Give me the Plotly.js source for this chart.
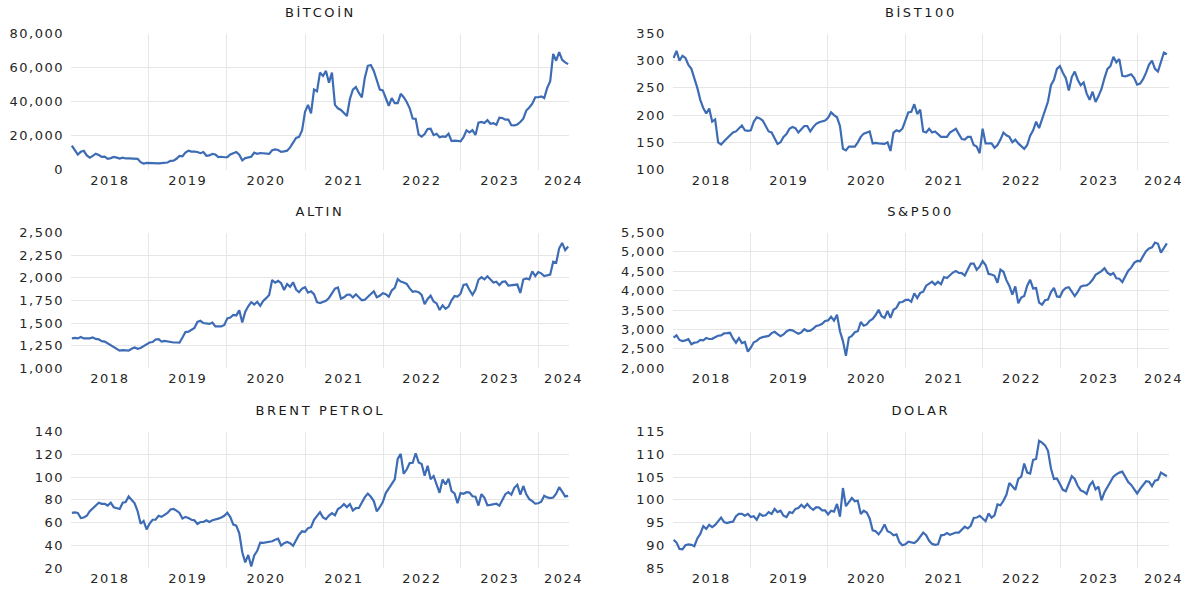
<!DOCTYPE html>
<html><head><meta charset="utf-8">
<script src="https://cdn.plot.ly/plotly-3.0.1.min.js"></script>
<style>
html,body{margin:0;padding:0;background:#fff;}
#chart{width:1190px;height:590px;}
g[class*="tick"] > text { letter-spacing: 1.5px; }
g.annotation text { letter-spacing: 2.6px; }
</style></head><body><div id="chart"></div>
<script>
// Biweekly observations starting 2018-01-05
const startDate = '2018-01-05';
const stepDays = 14;

const bitcoin = [
 14000, 11200, 8800, 10400, 11000, 8300, 7000, 8000, 9300, 8500, 7400, 7600, 6300, 6700, 7400, 7000, 6400, 7000, 6500, 6600, 6400, 6400, 6300, 4300, 3500, 3900,
 3800, 3600, 3450, 3600, 3800, 3900, 4100, 5100, 5200, 6300, 8000, 7800, 10000, 11000, 10500, 10500, 10300, 9600, 10300, 8100, 8300, 9200, 8800, 7300, 7500, 7200,
 7300, 8900, 9400, 10300, 8700, 5400, 6700, 6900, 7500, 9900, 9200, 9700, 9400, 9100, 9200, 11300, 11800, 11500, 10400, 10700, 11100, 13000, 15500, 18600, 19200, 23000,
 34000, 38000, 33000, 47000, 46000, 57000, 55000, 58000, 51000, 57000, 38000, 36000, 35000, 33500, 31500, 41500, 47000, 48500, 45000, 42500, 54000, 61000, 61500, 58000, 53000, 47000,
 46500, 42500, 37500, 42000, 39000, 39000, 44500, 42500, 39700, 36000, 30000, 29800, 20500, 19300, 20800, 23800, 24000, 20200, 21000, 19000, 19500, 19200, 21000, 16700, 17000, 16800,
 16600, 19000, 23000, 21800, 23200, 20300, 27500, 28000, 27300, 29000, 26900, 27200, 26300, 30500, 30300, 29300, 29400, 26000, 25900, 26500, 27900, 29900, 34700, 36500, 38700, 42500,
 42500, 43000, 42000, 48000, 52000, 68000, 64000, 69000, 64500, 63000, 62000
];

const bist100 = [
 305, 318, 300, 309, 305, 292, 285, 268, 250, 228, 213, 203, 212, 188, 192, 150, 146, 152, 158, 162, 168, 170, 175, 181, 172, 171,
 172, 188, 196, 194, 190, 180, 170, 168, 158, 147, 150, 160, 165, 175, 178, 176, 168, 175, 180, 180, 170, 178, 184, 187, 188, 190,
 195, 205, 200, 196, 180, 138, 135, 142, 142, 142, 150, 160, 166, 168, 170, 148, 149, 148, 147, 147, 150, 134, 168, 172, 170, 175,
 190, 205, 206, 220, 202, 210, 170, 168, 175, 168, 170, 165, 160, 160, 160, 168, 172, 175, 165, 156, 155, 160, 160, 145, 142, 130,
 175, 148, 148, 148, 140, 145, 155, 168, 163, 160, 150, 155, 148, 143, 138, 145, 162, 172, 188, 176, 192, 208, 225, 255, 265, 285,
 290, 278, 268, 245, 270, 280, 265, 255, 260, 240, 228, 243, 224, 235, 248, 268, 285, 290, 307, 297, 303, 272, 271, 273, 275, 268,
 256, 258, 266, 278, 293, 300, 285, 280, 300, 315, 312
];

const altin = [
 1330, 1335, 1330, 1345, 1330, 1330, 1330, 1340, 1325, 1320, 1300, 1295, 1275, 1260, 1240, 1220, 1195, 1200, 1195, 1195, 1215, 1230, 1215, 1225, 1245, 1265,
 1285, 1290, 1318, 1322, 1295, 1302, 1295, 1292, 1285, 1285, 1283, 1340, 1400, 1405, 1425, 1445, 1512, 1525, 1500, 1498, 1490, 1505, 1462, 1462, 1462, 1478,
 1552, 1560, 1589, 1584, 1640, 1505, 1625, 1685, 1730, 1705, 1735, 1690, 1745, 1775, 1810, 1975, 1945, 1965, 1940, 1865, 1930, 1900, 1950, 1870, 1840, 1880,
 1895, 1835, 1850, 1820, 1730, 1720, 1730, 1745, 1777, 1830, 1880, 1892, 1768, 1785, 1812, 1815, 1782, 1818, 1790, 1752, 1758, 1795, 1820, 1850, 1785, 1800,
 1829, 1818, 1791, 1860, 1889, 1985, 1958, 1947, 1932, 1883, 1846, 1851, 1840, 1811, 1708, 1766, 1802, 1738, 1717, 1644, 1695, 1657, 1681, 1751, 1798, 1793,
 1824, 1920, 1928, 1865, 1811, 1868, 1978, 2007, 1982, 2017, 1977, 1948, 1957, 1919, 1955, 1959, 1914, 1915, 1919, 1925, 1832, 1981, 1992, 1981, 2071, 2019,
 2063, 2049, 2020, 2025, 2035, 2178, 2165, 2325, 2385, 2305, 2345
];

const sp500 = [
 2790, 2850, 2730, 2700, 2720, 2750, 2620, 2660, 2670, 2730, 2720, 2780, 2755, 2760, 2800, 2840, 2850, 2900, 2905, 2915, 2770, 2660, 2780, 2650, 2680, 2430,
 2531, 2670, 2706, 2775, 2803, 2822, 2834, 2907, 2940, 2881, 2826, 2873, 2950, 2990, 2977, 2932, 2889, 2926, 3007, 2961, 2970, 3023, 3093, 3110, 3146, 3221,
 3235, 3330, 3226, 3380, 2954, 2700, 2320, 2790, 2837, 2930, 2955, 3194, 3098, 3130, 3225, 3271, 3373, 3508, 3341, 3298, 3477, 3300, 3509, 3558, 3699, 3709,
 3756, 3768, 3714, 3934, 3811, 3943, 3975, 4129, 4180, 4233, 4156, 4230, 4166, 4352, 4327, 4395, 4468, 4509, 4459, 4455, 4391, 4545, 4698, 4698, 4538, 4620,
 4766, 4662, 4432, 4419, 4385, 4204, 4543, 4488, 4272, 4123, 3901, 4109, 3675, 3825, 3863, 4130, 4280, 4058, 4068, 3693, 3640, 3753, 3771, 3965, 4072, 3852,
 3839, 3999, 4070, 4090, 3970, 3861, 3970, 4105, 4133, 4136, 4191, 4282, 4409, 4450, 4505, 4582, 4464, 4405, 4457, 4320, 4308, 4224, 4358, 4514, 4594, 4719,
 4770, 4760, 4890, 5020, 5090, 5120, 5240, 5210, 4980, 5120, 5220
];

const brent = [
 68.5, 69, 68.5, 64, 64.5, 66, 70, 72.5, 74.5, 77.5, 76.5, 76.5, 75, 77.5, 73.5, 73, 72, 77.5, 78, 83, 80, 77, 70, 59, 61.5, 54,
 59, 62.5, 62.5, 66, 65, 67, 68.5, 71.5, 72, 70.5, 68.5, 63.5, 65, 64, 62.5, 62, 58.8, 60.5, 60.5, 62, 60.5, 62, 62.5, 63.5, 64.5, 66,
 68.6, 64.9, 58.2, 57.3, 50.5, 33.9, 24.9, 31.5, 21.4, 31, 35.1, 42.3, 42.2, 42.8, 43.1, 43.5, 44.8, 45.8, 39.8, 41.9, 42.9, 41.8, 39.5, 45, 49.3, 52.3,
 51.8, 55.1, 55.9, 62.4, 66.1, 69.2, 64.6, 63, 66.1, 68.3, 66.4, 71.9, 73.5, 76.2, 73.6, 76.3, 70.6, 72.7, 72.9, 78.1, 82.4, 85.5, 82.7, 78.9, 69.9, 73.5,
 78, 86, 90, 94.5, 98, 116, 120.5, 103, 106.7, 112.4, 112.6, 121, 113, 111.6, 101.2, 110, 98.2, 101, 92.8, 86.2, 97.9, 93.5, 98.6, 87.6, 85.6, 77,
 85.9, 85.3, 86.7, 86.4, 83.2, 82.8, 75, 85.1, 81.7, 75.3, 75.6, 76.1, 76.6, 74.9, 79.9, 85, 86.8, 84.5, 90.6, 93.3, 84.6, 92.2, 84.9, 80.6, 78.9, 76.6,
 77, 78.3, 83.6, 82.2, 81.6, 82.1, 85.4, 91.2, 87.3, 83, 83.5
];

const dolar = [
 91.2, 90.6, 89.2, 89.1, 90.0, 90.2, 90.1, 89.8, 91.5, 92.5, 94.2, 93.6, 94.5, 94.0, 94.5, 95.2, 96.1, 95.1, 94.9, 95.1, 95.2, 96.4, 96.9, 96.9, 96.5, 96.9,
 96.2, 96.4, 95.6, 96.9, 96.5, 96.6, 97.3, 96.9, 98.0, 97.3, 97.6, 96.5, 96.2, 97.3, 97.1, 98.0, 98.2, 98.9, 98.3, 99.1, 98.3, 97.8, 98.4, 98.3, 97.7, 97.7,
 96.8, 97.6, 97.4, 99.1, 96.3, 102.6, 98.6, 99.5, 100.4, 99.7, 99.8, 96.9, 97.6, 97.2, 95.9, 93.3, 93.1, 92.4, 93.3, 94.6, 93.1, 92.8, 92.2, 92.4, 90.7, 90.0,
 90.2, 90.8, 90.6, 90.5, 91.0, 91.8, 92.8, 92.2, 91.0, 90.3, 90.1, 90.2, 92.2, 92.3, 92.7, 92.3, 92.6, 92.8, 92.8, 93.4, 94.1, 93.7, 94.3, 96.0, 96.1, 96.5,
 95.8, 95.3, 97.0, 96.1, 96.6, 99.0, 98.8, 99.8, 101.1, 103.7, 103.0, 102.2, 104.6, 105.1, 108.0, 106.0, 105.8, 108.8, 109.0, 113.0, 112.6, 112.0, 110.8, 106.9, 104.6, 104.7,
 103.5, 102.2, 101.9, 103.6, 105.2, 104.6, 103.1, 102.1, 101.8, 101.3, 103.2, 104.0, 102.3, 102.9, 99.9, 101.7, 102.8, 104.2, 105.1, 105.6, 106.0, 106.2, 105.0, 103.9, 103.3, 102.2,
 101.4, 102.4, 103.4, 104.1, 104.0, 103.0, 104.2, 104.4, 106.0, 105.6, 105.2
];

const titles = ['BİTCOİN', 'BİST100', 'ALTIN', 'S&P500', 'BRENT PETROL', 'DOLAR'];
const yearLabels = ['2018', '2019', '2020', '2021', '2022', '2023', '2024'];

function buildDates(n) {
  const out = [];
  const t0 = Date.parse(startDate + 'T00:00:00Z');
  for (let i = 0; i < n; i++) {
    out.push(new Date(t0 + i * stepDays * 86400000).toISOString().slice(0, 10));
  }
  return out;
}

const W = 1190, H = 590;
const colsPx = [[71, 569], [672.7, 1169]];
const rowsPx = [[33.5, 169.5], [232.5, 368.3], [431.7, 568]];
const titleY = [12, 211, 410];
const xRanges = [['2018-01-01', '2024-05-21'], ['2018-01-01', '2024-05-27']];
const lastLabelPos = ['2024-04-25', '2024-05-01'];

const panels = [
  {data: bitcoin, col: 0, row: 0, yr: [0, 80000], dt: 20000},
  {data: bist100, col: 1, row: 0, yr: [100, 350], dt: 50},
  {data: altin, col: 0, row: 1, yr: [1000, 2500], dt: 250},
  {data: sp500, col: 1, row: 1, yr: [2000, 5500], dt: 500},
  {data: brent, col: 0, row: 2, yr: [20, 140], dt: 20},
  {data: dolar, col: 1, row: 2, yr: [85, 115], dt: 5}
];

const lineColor = '#3d6cb5';
const gridColor = '#e6e6e6';
const font = {family: 'DejaVu Sans, Verdana, sans-serif', size: 13, color: '#262626'};

const traces = [];
const layout = {
  width: W, height: H,
  margin: {l: 0, r: 0, t: 0, b: 0},
  paper_bgcolor: '#ffffff', plot_bgcolor: '#ffffff',
  showlegend: false,
  font: font,
  annotations: []
};

panels.forEach((p, i) => {
  const n = i + 1;
  const xa = n === 1 ? 'x' : 'x' + n;
  const ya = n === 1 ? 'y' : 'y' + n;
  const dates = buildDates(p.data.length);
  traces.push({
    type: 'scatter', mode: 'lines', x: dates, y: p.data,
    xaxis: xa, yaxis: ya,
    line: {color: lineColor, width: 2.2},
    hoverinfo: 'x+y'
  });
  const cx = colsPx[p.col], ry = rowsPx[p.row];
  const xdom = [cx[0] / W, cx[1] / W];
  const ydom = [1 - ry[1] / H, 1 - ry[0] / H];
  const tickvals = yearLabels.map((y, k) => k < yearLabels.length - 1 ? y + '-07-02' : lastLabelPos[p.col]);
  layout[n === 1 ? 'xaxis' : 'xaxis' + n] = {
    domain: xdom, anchor: ya, type: 'date',
    range: xRanges[p.col],
    tickmode: 'array', tickvals: tickvals, ticktext: yearLabels,
    showgrid: false, zeroline: false, showline: false, ticks: '',
    tickangle: 0, ticklabelstandoff: 1,
    tickfont: {family: font.family, size: 13, color: '#262626'},
    minor: {tick0: '2019-01-01', dtick: 'M12', showgrid: true, gridcolor: gridColor, gridwidth: 1, ticks: ''},
    fixedrange: true
  };
  layout[n === 1 ? 'yaxis' : 'yaxis' + n] = {
    domain: ydom, anchor: xa,
    range: p.yr, tickmode: 'linear', tick0: p.yr[0], dtick: p.dt,
    tickformat: ',d', separatethousands: true,
    showgrid: true, gridcolor: gridColor, gridwidth: 1,
    zeroline: false, showline: false, ticks: '',
    ticklabelstandoff: 6,
    tickfont: {family: font.family, size: 13, color: '#262626'},
    fixedrange: true
  };
  layout.annotations.push({
    text: titles[i], xref: 'paper', yref: 'paper',
    x: (xdom[0] + xdom[1]) / 2, y: 1 - titleY[p.row] / H,
    xanchor: 'center', yanchor: 'middle', showarrow: false,
    font: {family: font.family, size: 13, color: '#1a1a1a'}
  });
});

Plotly.newPlot('chart', traces, layout, {staticPlot: true, displayModeBar: false});
</script></body></html>
